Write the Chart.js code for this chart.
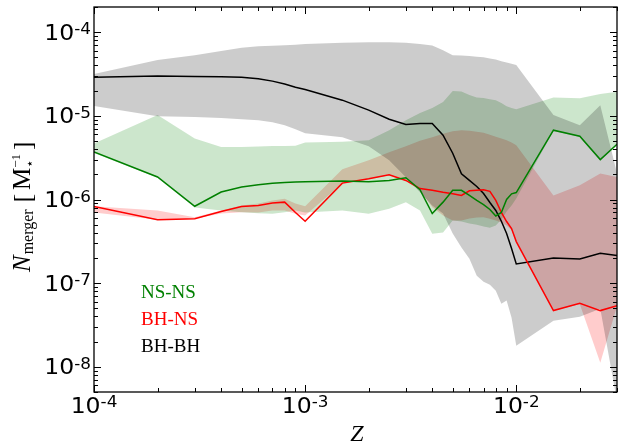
<!DOCTYPE html>
<html><head><meta charset="utf-8">
<script src="https://cdn.jsdelivr.net/npm/chart.js@4.4.0/dist/chart.umd.min.js"></script>
<style>html,body{margin:0;padding:0;background:#fff;}</style>
</head><body>
<canvas id="c" width="618" height="445"></canvas>
<script>
// ---- data ----
const Z = [1e-4,2e-4,3e-4,4e-4,5e-4,6e-4,7e-4,8e-4,9e-4,1e-3,1.5e-3,2e-3,2.5e-3,3e-3,3.5e-3,4e-3,4.5e-3,5e-3,5.5e-3,6e-3,6.5e-3,7e-3,7.5e-3,8e-3,8.5e-3,9e-3,9.5e-3,1e-2,1.5e-2,2e-2,2.5e-2,3e-2];

const bhbh   = [2.9e-5,3.0e-5,2.95e-5,2.93e-5,2.9e-5,2.78e-5,2.6e-5,2.4e-5,2.2e-5,2.06e-5,1.54e-5,1.17e-5,9.1e-6,7.9e-6,8.1e-6,8.1e-6,5.86e-6,3.57e-6,2.03e-6,1.69e-6,1.43e-6,1.18e-6,9.2e-7,7.4e-7,5.5e-7,3.93e-7,2.6e-7,1.7e-7,2.0e-7,1.95e-7,2.28e-7,2.14e-7];
const bhbhUp = [3.16e-5,4.65e-5,5.3e-5,5.97e-5,6.5e-5,6.8e-5,6.9e-5,7.0e-5,7.1e-5,7.2e-5,7.5e-5,7.6e-5,7.6e-5,7.5e-5,7.2e-5,6.95e-5,6.1e-5,5.3e-5,5.25e-5,5.2e-5,5.1e-5,5.0e-5,4.85e-5,4.7e-5,4.5e-5,4.35e-5,4.2e-5,4.05e-5,1.02e-5,7.7e-6,1.34e-5,2.06e-6];
const bhbhLo = [1.31e-5,9.9e-6,9.7e-6,9.4e-6,9.1e-6,8.88e-6,8.4e-6,7.73e-6,6.93e-6,6.2e-6,5.56e-6,4.33e-6,2.94e-6,1.84e-6,1.22e-6,8.5e-7,6.8e-7,3.92e-7,2.66e-7,1.96e-7,1.23e-7,1.04e-7,9.6e-8,8.1e-8,5.67e-8,6.2e-8,3.85e-8,1.78e-8,3.55e-8,3.96e-8,4.95e-8,3.9e-9];

const nsns   = [3.7e-6,1.86e-6,8.3e-7,1.23e-6,1.41e-6,1.5e-6,1.56e-6,1.6e-6,1.62e-6,1.63e-6,1.66e-6,1.63e-6,1.69e-6,1.82e-6,1.31e-6,6.8e-7,9.3e-7,1.29e-6,1.29e-6,1.12e-6,9.75e-7,8.7e-7,7.6e-7,6.35e-7,7.0e-7,1.0e-6,1.17e-6,1.21e-6,6.74e-6,5.7e-6,3.0e-6,4.58e-6];
const nsnsUp = [4.67e-6,1.02e-5,5.36e-6,4.25e-6,4.25e-6,4.3e-6,4.35e-6,4.35e-6,4.4e-6,4.8e-6,4.9e-6,5.12e-6,6.74e-6,8.88e-6,1.08e-5,1.24e-5,1.46e-5,1.98e-5,1.95e-5,1.77e-5,1.66e-5,1.63e-5,1.58e-5,1.54e-5,1.42e-5,1.3e-5,1.24e-5,1.2e-5,1.66e-5,1.62e-5,1.82e-5,1.94e-5];
const nsnsLo = [3.6e-6,1.82e-6,8.0e-7,7.4e-7,7.06e-7,6.87e-7,6.76e-7,7.06e-7,7.4e-7,7.0e-7,7.4e-7,6.76e-7,7.76e-7,9.3e-7,7.4e-7,3.89e-7,4.03e-7,5.6e-7,5.45e-7,5.16e-7,5.0e-7,4.75e-7,4.6e-7,4.9e-7,5.77e-7,7.2e-7,8.5e-7,1.03e-6,6.6e-6,5.6e-6,2.95e-6,4.5e-6];

const bhns   = [8.26e-7,5.73e-7,5.9e-7,7.2e-7,8.26e-7,8.5e-7,9.06e-7,9.3e-7,7.0e-7,5.5e-7,1.57e-6,1.77e-6,1.98e-6,1.69e-6,1.35e-6,1.29e-6,1.22e-6,1.17e-6,1.12e-6,1.27e-6,1.29e-6,1.31e-6,1.25e-6,9.75e-7,7.0e-7,5.45e-7,4.5e-7,3.14e-7,4.7e-8,5.73e-8,4.7e-8,5.37e-8];
const bhnsUp = [8.3e-7,7.4e-7,6.15e-7,7.4e-7,8.5e-7,8.97e-7,9.75e-7,1.02e-6,8.97e-7,8.3e-7,2.3e-6,2.94e-6,3.67e-6,4.33e-6,5.05e-6,5.56e-6,6.12e-6,6.56e-6,6.74e-6,6.65e-6,6.46e-6,6.3e-6,5.96e-6,5.64e-6,5.35e-6,5.1e-6,4.8e-6,4.46e-6,1.12e-6,1.48e-6,2.04e-6,1.86e-6];
const bhnsLo = [7.0e-7,5.73e-7,5.9e-7,6.8e-7,7.06e-7,7.0e-7,7.4e-7,7.4e-7,6.76e-7,6.45e-7,1.55e-6,1.75e-6,1.95e-6,1.67e-6,1.29e-6,8.1e-7,6.44e-7,5.6e-7,5.6e-7,5.93e-7,6.1e-7,6.15e-7,5.9e-7,5.6e-7,5.3e-7,4.9e-7,4.3e-7,3.14e-7,4.7e-8,5.6e-8,1.12e-8,5.3e-8];

const xTickValues = [1e-4,1e-3,1e-2];
const xTickLabels = ['10^-4','10^-3','10^-2'];
const yTickValues = [1e-4,1e-5,1e-6,1e-7,1e-8];
const yTickLabels = ['10^-4','10^-5','10^-6','10^-7','10^-8'];
const legendNames = ['NS-NS','BH-NS','BH-BH'];
const legendColors = ['#008000','#ff0000','#000000'];

// ---- build ----
const pts = arr => Z.map((z,i)=>({x:z,y:arr[i]}));
function line(arr,color){return {data:pts(arr),borderColor:color,borderWidth:1.5,pointRadius:0,fill:false,order:0,tension:0};}
function band(up,lo,fillCol){return [
  {data:pts(up),borderWidth:0,borderColor:'transparent',pointRadius:0,fill:'+1',backgroundColor:fillCol,order:1,tension:0},
  {data:pts(lo),borderWidth:0,borderColor:'transparent',pointRadius:0,fill:false,order:1,tension:0}
];}

const datasets = [
  line(nsns,'#008000'), line(bhns,'#ff0000'), line(bhbh,'#000000'),
  ...band(bhbhUp,bhbhLo,'rgba(0,0,0,0.2)'),
  ...band(nsnsUp,nsnsLo,'rgba(0,128,0,0.2)'),
  ...band(bhnsUp,bhnsLo,'rgba(255,0,0,0.2)')
];

function drawPow(ctx,label,x,yMid,align){
  const [b,e]=label.split('^');
  const sx=1.12;
  ctx.font='21px "DejaVu Sans"';
  const w1=ctx.measureText(b).width*sx;
  ctx.font='15px "DejaVu Sans"';
  const w2=ctx.measureText(e).width*sx;
  const x0 = align==='right'? x-w1-w2 : x-(w1+w2)/2;
  ctx.save();
  ctx.translate(x0,yMid); ctx.scale(sx,1);
  ctx.textAlign='left'; ctx.textBaseline='alphabetic';
  ctx.font='21px "DejaVu Sans"'; ctx.fillText(b,0,7.6);
  ctx.font='15px "DejaVu Sans"'; ctx.fillText(e,w1/sx,2);
  ctx.restore();
}

const decor = {
  id:'decor',
  afterDraw(chart){
    const {ctx,chartArea:a,scales:{x,y}}=chart;
    ctx.save();
    ctx.strokeStyle='#000'; ctx.fillStyle='#000';
    ctx.lineWidth=1;
    const seg=(x1,y1,x2,y2)=>{ctx.beginPath();ctx.moveTo(x1,y1);ctx.lineTo(x2,y2);ctx.stroke();};
    for(let d=-4; d<=-2; d++){
      for(let m=1;m<=9;m++){
        const v=m*Math.pow(10,d);
        if(v<x.min*0.999||v>x.max*1.001) continue;
        const px=Math.round(x.getPixelForValue(v))+0.5;
        const L = m===1?7:4;
        seg(px,a.bottom,px,a.bottom-L); seg(px,a.top,px,a.top+L);
      }
    }
    for(let d=-9; d<=-4; d++){
      for(let m=1;m<=9;m++){
        const v=m*Math.pow(10,d);
        if(v<y.min*0.999||v>y.max*1.001) continue;
        const py=Math.round(y.getPixelForValue(v))+0.5;
        const L = m===1?7:4;
        seg(a.left,py,a.left+L,py); seg(a.right,py,a.right-L,py);
      }
    }
    ctx.lineWidth=1.3;
    ctx.strokeRect(a.left,a.top,a.right-a.left,a.bottom-a.top);
    xTickValues.forEach((v,i)=>drawPow(ctx,xTickLabels[i],x.getPixelForValue(v),a.bottom+13,'center'));
    yTickValues.forEach((v,i)=>drawPow(ctx,yTickLabels[i],a.left-3,y.getPixelForValue(v),'right'));
    ctx.font='italic 24px "Liberation Serif"'; ctx.textAlign='center'; ctx.textBaseline='alphabetic';
    ctx.fillText('Z',357,441);
    ctx.save();
    ctx.translate(30,272); ctx.rotate(-Math.PI/2);
    ctx.textAlign='left';
    let cx=0;
    ctx.font='italic 25px "Liberation Serif"'; ctx.fillText('N',cx,0); cx+=ctx.measureText('N').width+1;
    ctx.font='16px "Liberation Serif"'; ctx.fillText('merger',cx,3); cx+=ctx.measureText('merger').width+7;
    ctx.font='25px "Liberation Serif"'; ctx.fillText('[',cx,1); cx+=ctx.measureText('[').width+4;
    ctx.fillText('M',cx,0); cx+=ctx.measureText('M').width;
    ctx.font='13px "DejaVu Sans"'; ctx.fillText('\u22c6',cx,4); const ws=ctx.measureText('\u22c6').width;
    ctx.font='13px "Liberation Serif"'; ctx.fillText('\u22121',cx,-10); cx+=Math.max(ws,ctx.measureText('\u22121').width)+4;
    ctx.font='25px "Liberation Serif"'; ctx.fillText(']',cx,1);
    ctx.restore();
    ctx.font='19px "Liberation Serif"'; ctx.textAlign='left';
    legendNames.forEach((n,i)=>{ctx.fillStyle=legendColors[i]; ctx.fillText(n,141,298+i*27);});
    ctx.restore();
  }
};

new Chart(document.getElementById('c'),{
  type:'line',
  data:{datasets},
  options:{
    responsive:false, animation:false, devicePixelRatio:1,
    layout:{padding:{left:94,right:1,top:7,bottom:53}},
    plugins:{legend:{display:false},tooltip:{enabled:false}},
    scales:{
      x:{type:'logarithmic',min:1e-4,max:0.03,display:false},
      y:{type:'logarithmic',min:5e-9,max:2e-4,display:false}
    }
  },
  plugins:[decor]
});
</script>
</body></html>
